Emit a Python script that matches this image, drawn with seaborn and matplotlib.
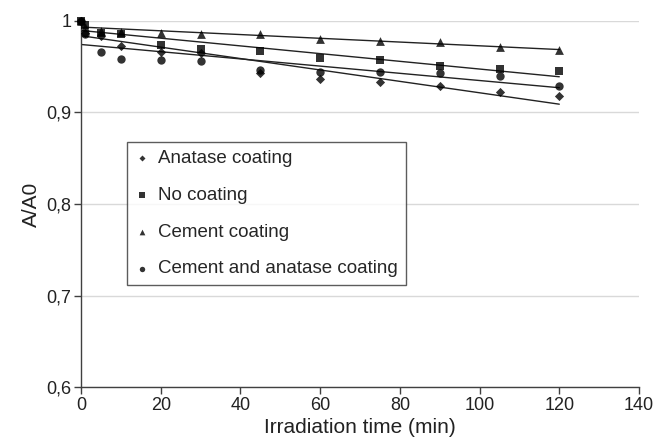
import matplotlib
matplotlib.use("Agg")
import matplotlib.pyplot as plt
import seaborn as sns
import pandas as pd

time_min = [0, 1, 5, 10, 20, 30, 45, 60, 75, 90, 105, 120]
anatase = [1.0, 0.987, 0.983, 0.972, 0.966, 0.965, 0.943, 0.936, 0.933, 0.929, 0.922, 0.918]
no_coating = [1.0, 0.995, 0.987, 0.986, 0.973, 0.969, 0.967, 0.959, 0.957, 0.951, 0.947, 0.945]
cement = [1.0, 0.993, 0.989, 0.988, 0.987, 0.986, 0.985, 0.980, 0.978, 0.977, 0.971, 0.968]
cement_anatase = [1.0, 0.985, 0.966, 0.958, 0.957, 0.956, 0.946, 0.944, 0.944, 0.943, 0.940, 0.929]

series = [
    ("Anatase coating", anatase, "D", 22),
    ("No coating", no_coating, "s", 34),
    ("Cement coating", cement, "^", 40),
    ("Cement and anatase coating", cement_anatase, "o", 36),
]

sns.set_theme(style="white")
plt.rcParams["font.family"] = ["Liberation Sans", "DejaVu Sans"]

fig = plt.figure(figsize=(6.58, 4.46), dpi=100)
ax = fig.add_axes([81 / 658, 1 - 387.3 / 446, (639 - 81) / 658, (387.3 - 20.7) / 446])

for name, vals, mk, sz in series:
    df = pd.DataFrame({"t": time_min, "v": vals})
    sns.regplot(data=df, x="t", y="v", ax=ax, ci=None, marker=mk, label=name,
                color="black",
                scatter_kws={"s": sz, "clip_on": False, "linewidths": 0, "zorder": 3},
                line_kws={"lw": 1.0, "color": "#222222"})

ax.set_xlim(0, 140)
ax.set_ylim(0.6, 1.0)
ax.set_xticks(range(0, 141, 20))
ax.set_yticks([0.6, 0.7, 0.8, 0.9, 1.0])
ax.set_yticklabels(["0,6", "0,7", "0,8", "0,9", "1"])
ax.yaxis.grid(True, color="#d9d9d9", lw=1)
ax.set_axisbelow(True)
for s in ["top", "right"]:
    ax.spines[s].set_visible(False)
for s in ["left", "bottom"]:
    ax.spines[s].set_color("#404040")
    ax.spines[s].set_linewidth(1.0)
ax.tick_params(axis="both", direction="out", length=5, width=1, color="#404040",
               labelsize=13, labelcolor="#222222", left=True, bottom=True, pad=2)
ax.set_xlabel("Irradiation time (min)", fontsize=15, color="#222222", labelpad=3)
ax.set_ylabel("A/A0", fontsize=15, color="#222222", labelpad=4)

leg = ax.legend(loc="upper left", bbox_to_anchor=(0.0824, 0.669), borderaxespad=0,
                frameon=True, fancybox=False, edgecolor="#333333", fontsize=13.5,
                handlelength=0.8, handletextpad=0.45, labelspacing=1.05,
                borderpad=0.42, markerscale=0.65)
leg.get_frame().set_linewidth(1.0)

fig.savefig("out.png", dpi=100)
